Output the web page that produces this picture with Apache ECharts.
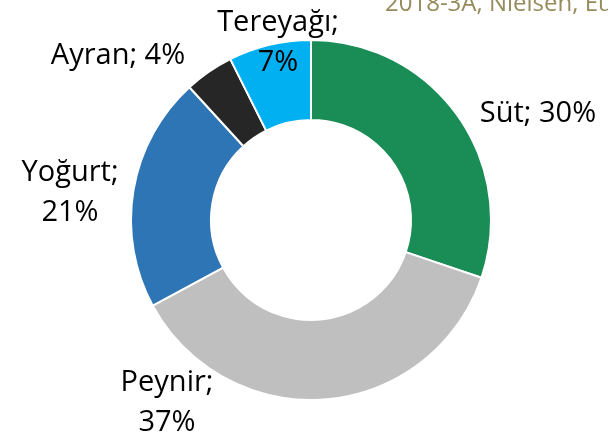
<!DOCTYPE html>
<html>
<head>
<meta charset="utf-8">
<script src="https://cdn.jsdelivr.net/npm/echarts@6/dist/echarts.min.js"></script>
<style>
  html, body { margin: 0; padding: 0; background: #fff; }
  #chart { width: 608px; height: 435px; }
</style>
</head>
<body>
<div id="chart"></div>
<script>
// data (slice sizes estimated from the arc angles)
var categories = ["Süt", "Peynir", "Yoğurt", "Ayran", "Tereyağı"];
var shares = [30.2, 36.9, 21.1, 4.4, 7.4];
var sourceText = "2018-3A, Nielsen, Euromonitor";

// styling
var sliceColors = ["#1a8c55", "#bfbfbf", "#2e75b6", "#262626", "#00b0f0"];
// label anchors (centre of each label block), style only
var labelSpots = [
  [538, 114],
  [167, 403],
  [70, 193],
  [118, 56],
  [278, 43]
];
var twoLines = [false, true, true, false, true];

var chart = echarts.init(document.getElementById("chart"));

var pieData = categories.map(function (name, i) {
  return {
    name: name,
    value: shares[i],
    itemStyle: { color: sliceColors[i] }
  };
});

chart.setOption({
  animation: false,
  graphic: [{
    type: "text",
    left: 385,
    top: -8,
    style: {
      text: sourceText,
      font: "24px 'Open Sans'",
      fill: "#958b5b"
    }
  }],
  series: [{
    type: "pie",
    center: [311, 220],
    radius: [100, 180],
    startAngle: 90,
    clockwise: true,
    data: pieData,
    itemStyle: { borderColor: "#fff", borderWidth: 2 },
    label: {
      show: true,
      position: "outside",
      alignTo: "none",
      overflow: "none",
      fontFamily: "Open Sans",
      fontSize: 29,
      lineHeight: 40,
      color: "#000",
      formatter: function (p) {
        var sep = twoLines[p.dataIndex] ? ";\n" : "; ";
        return p.name + sep + Math.round(p.percent) + "%";
      }
    },
    labelLine: { show: false },
    labelLayout: function (p) {
      var s = labelSpots[p.dataIndex];
      return { x: s[0], y: s[1], align: "center", verticalAlign: "middle" };
    }
  }]
});
</script>
</body>
</html>
